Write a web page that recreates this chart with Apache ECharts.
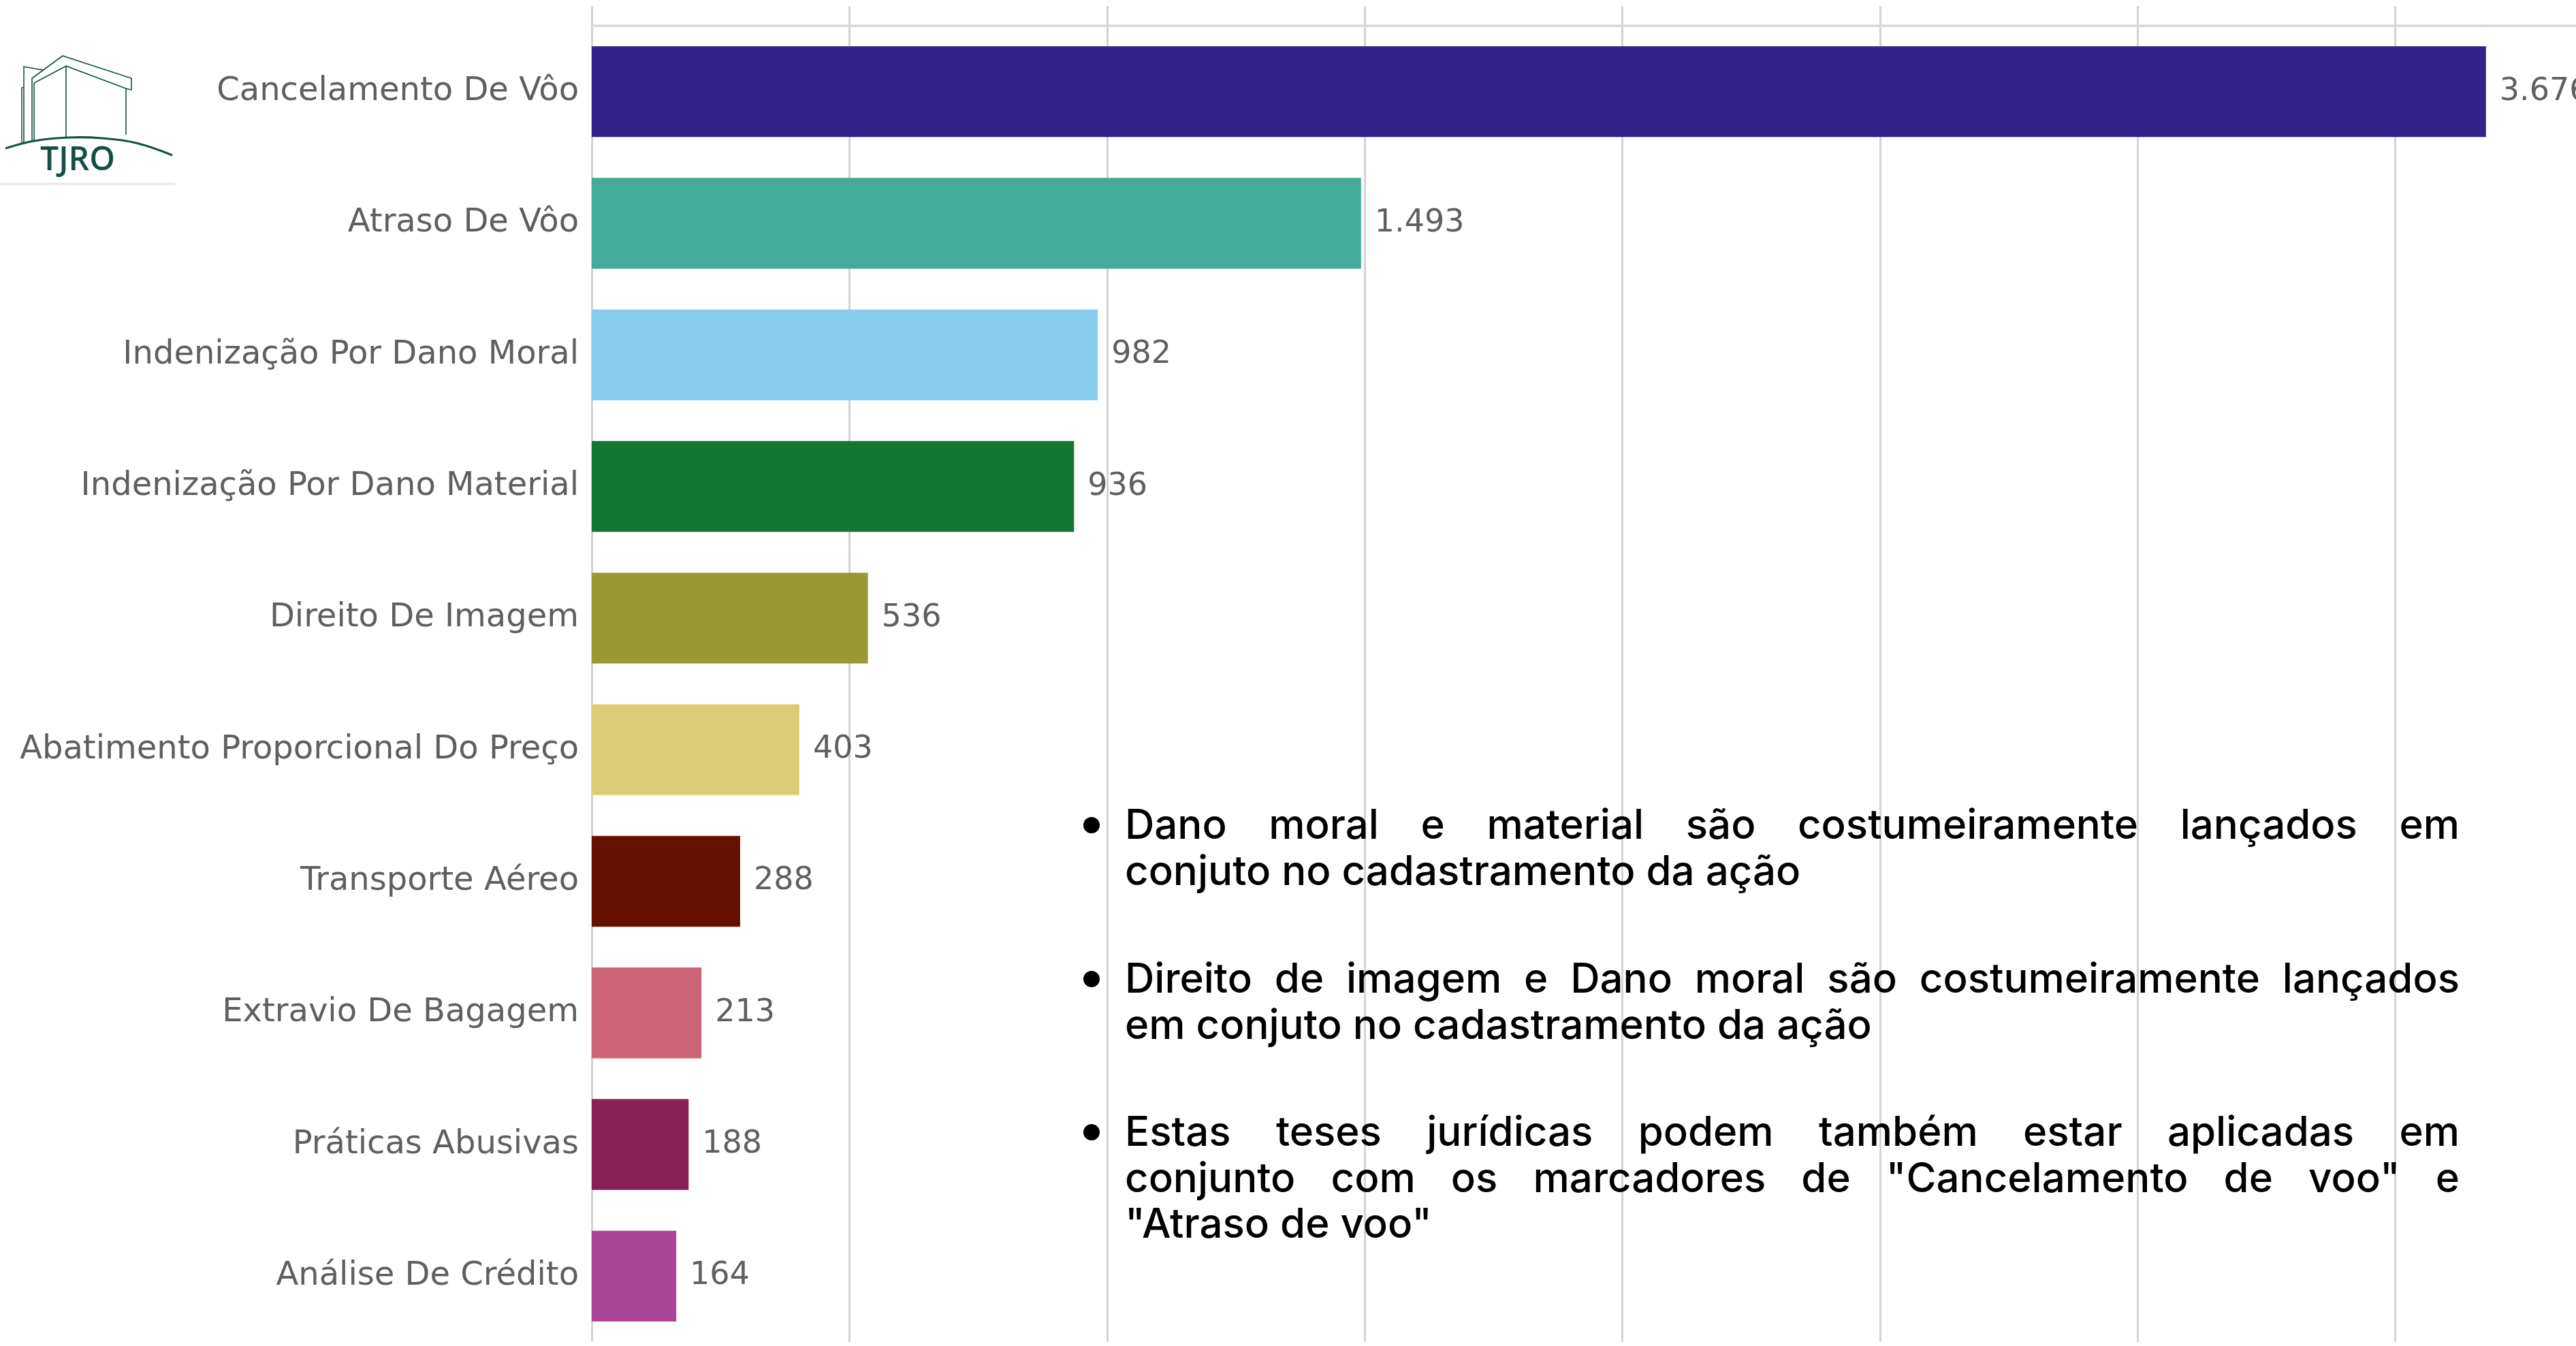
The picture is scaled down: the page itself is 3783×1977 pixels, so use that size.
<!DOCTYPE html>
<html>
<head>
<meta charset="utf-8">
<script src="https://cdn.jsdelivr.net/npm/echarts@6.0.0/dist/echarts.min.js"></script>
<style>
  html, body { margin: 0; padding: 0; background: #fff; }
  #teses { width: 3783px; height: 1977px; }
</style>
</head>
<body>
<div id="teses"></div>
<script>
// dados
const categories = [
  "Cancelamento De Vôo",
  "Atraso De Vôo",
  "Indenização Por Dano Moral",
  "Indenização Por Dano Material",
  "Direito De Imagem",
  "Abatimento Proporcional Do Preço",
  "Transporte Aéreo",
  "Extravio De Bagagem",
  "Práticas Abusivas",
  "Análise De Crédito"
];
const values = [3676, 1493, 982, 936, 536, 403, 288, 213, 188, 164];
const axisMin = 0;
const axisMax = 4000;
const axisStep = 500;

const notes = [
  ["Dano moral e material são costumeiramente lançados em",
   "conjuto no cadastramento da ação"],
  ["Direito de imagem e Dano moral são costumeiramente lançados",
   "em conjuto no cadastramento da ação"],
  ["Estas teses jurídicas podem também estar aplicadas em",
   "conjunto com os marcadores de \"Cancelamento de voo\" e",
   "\"Atraso de voo\""]
];

const palette = ["#332288", "#44aa99", "#88ccee", "#117733", "#999933",
                 "#ddcc77", "#661100", "#cc6677", "#882255", "#aa4499"];

// 3676 -> "3.676"
function fmt(v) {
  return String(v).replace(/\B(?=(\d{3})+(?!\d))/g, ".");
}

// texto justificado das notas
const noteFont = { fontSize: 60, fontFamily: "Inter", fontWeight: 500 };
const ctx = document.createElement("canvas").getContext("2d");
function measure(t) {
  ctx.font = noteFont.fontWeight + " " + noteFont.fontSize + "px " + noteFont.fontFamily;
  return ctx.measureText(t).width;
}
function wordText(t, x, y) {
  return {
    type: "text", x: x, y: y, z: 100,
    style: Object.assign({ text: t, fill: "#000", align: "left", verticalAlign: "middle" }, noteFont)
  };
}
function noteLine(text, x0, x1, y, justify) {
  if (!justify) return [wordText(text, x0, y)];
  const words = text.split(" ");
  const total = words.reduce((s, w) => s + measure(w), 0);
  const gap = (x1 - x0 - total) / (words.length - 1);
  let x = x0;
  const out = [];
  words.forEach(w => {
    out.push(wordText(w, x, y));
    x += measure(w) + gap;
  });
  return out;
}

const noteTop = [1214, 1440, 1665];
const lineGap = 67.5;
let noteGraphics = [];
notes.forEach((para, i) => {
  noteGraphics.push({
    type: "circle", z: 100,
    shape: { cx: 1603, cy: noteTop[i] - 2, r: 12 },
    style: { fill: "#000" }
  });
  para.forEach((line, j) => {
    noteGraphics = noteGraphics.concat(
      noteLine(line, 1652, 3612, noteTop[i] + j * lineGap, j < para.length - 1)
    );
  });
});

// logo TJRO
const logoColor = "#145046";
function stroke(points, w, smooth) {
  return {
    type: "polyline", z: 100,
    shape: { points: points, smooth: smooth || 0 },
    style: { stroke: logoColor, lineWidth: w, fill: null }
  };
}
const logo = [
  stroke([[35, 212], [35, 98], [64, 103]], 1.6),
  stroke([[32, 210], [32, 129], [35, 128]], 1.6),
  stroke([[47, 207], [47, 115], [92, 82], [193, 115], [193, 132], [185, 130]], 1.6),
  stroke([[50, 207], [50, 122], [97, 97], [185, 130]], 1.6),
  stroke([[97, 97], [97, 202]], 1.6),
  stroke([[185, 130], [185, 198]], 1.6),
  stroke([[8, 218], [50, 207], [100, 202], [150, 203], [200, 210], [253, 228]], 3.2, 0.4),
  {
    type: "text", x: 114, y: 236, z: 100,
    style: { text: "TJRO", fill: logoColor, fontSize: 48, fontWeight: 600,
             fontFamily: "Open Sans", align: "center", verticalAlign: "middle" }
  },
  {
    type: "line", z: 100,
    shape: { x1: 0, y1: 270, x2: 257, y2: 270 },
    style: { stroke: "#e8e8e8", lineWidth: 3 }
  }
];

const option = {
  animation: false,
  backgroundColor: "#fff",
  color: palette,
  // o eixo continua alem da borda direita
  grid: {
    left: 869, width: 3027, top: 38, bottom: 6,
    containLabel: false,
    outerBoundsMode: "none"
  },
  xAxis: {
    type: "value",
    position: "top",
    min: axisMin,
    max: axisMax,
    interval: axisStep,
    axisLine: { show: true, lineStyle: { color: "#dcdcdc", width: 4 } },
    axisTick: { show: true, length: 29, lineStyle: { color: "#d3d3d3", width: 3 } },
    axisLabel: { show: false },
    splitLine: { show: true, lineStyle: { color: "#d3d3d3", width: 3 } }
  },
  yAxis: {
    type: "category",
    inverse: true,
    data: categories,
    axisLine: { show: false },
    axisTick: { show: false },
    axisLabel: {
      margin: 19,
      fontFamily: "DejaVu Sans",
      fontSize: 48,
      color: "#5f5f5f"
    }
  },
  series: [
    {
      type: "bar",
      colorBy: "data",
      barWidth: "69%",
      data: values,
      label: {
        show: true,
        position: "right",
        distance: 20,
        fontFamily: "DejaVu Sans",
        fontSize: 46,
        color: "#5f5f5f",
        formatter: p => fmt(p.value)
      }
    }
  ],
  graphic: logo.concat(noteGraphics)
};

const chart = echarts.init(document.getElementById("teses"));
chart.setOption(option);
</script>
</body>
</html>
